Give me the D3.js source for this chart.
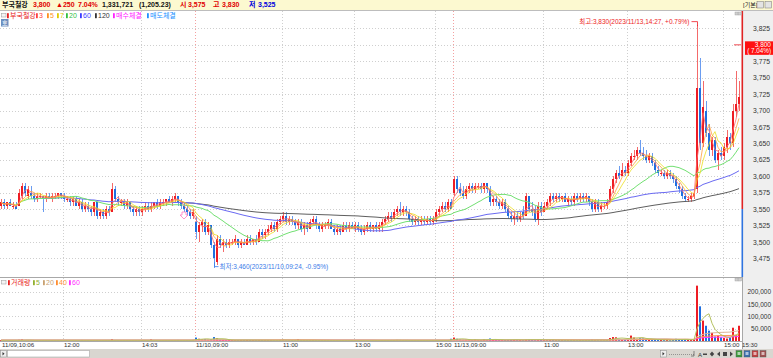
<!DOCTYPE html>
<html><head><meta charset="utf-8">
<script src="https://cdn.jsdelivr.net/npm/d3@7/dist/d3.min.js"></script>
<style>
html,body{margin:0;padding:0;background:#fff;}
svg{display:block;font-family:"Liberation Sans","Noto Sans CJK KR",sans-serif;}
</style></head><body>
<svg id="chart" width="773" height="358"></svg>
<script>
// ---------- DATA ----------
const opens = [
3555,3560,3555,3560,3555,3555,3555,3570,3585,3570,3575,3570,3565,3570,3570,3565,3570,3565,3570,3570,
3575,3570,3565,3565,3560,3565,3555,3560,3550,3555,3550,3545,3560,3540,3545,3540,3550,3545,3580,3565,
3560,3560,3555,3560,3550,3545,3550,3545,3550,3555,3550,3555,3560,3555,3560,3560,3565,3560,3565,3570,
3560,3555,3550,3545,3540,3530,3515,3525,3530,3515,3525,3495,3470,3505,3495,3500,3495,3500,3500,3505,
3495,3500,3495,3505,3500,3505,3500,3515,3510,3515,3520,3525,3520,3530,3535,3540,3530,3535,3530,3525,
3530,3520,3525,3520,3530,3535,3525,3520,3525,3525,3530,3520,3515,3520,3515,3525,3520,3525,3520,3525,
3520,3515,3520,3525,3520,3525,3520,3525,3530,3535,3540,3535,3545,3550,3545,3550,3545,3535,3530,3535,
3530,3535,3530,3535,3530,3535,3545,3550,3555,3550,3560,3575,3595,3580,3575,3570,3580,3585,3580,3585,
3585,3580,3590,3580,3560,3565,3560,3555,3560,3550,3540,3535,3540,3535,3545,3540,3570,3550,3550,3535,
3555,3545,3555,3560,3570,3565,3570,3565,3570,3560,3565,3560,3570,3565,3570,3565,3570,3560,3550,3560,
3550,3555,3555,3560,3580,3595,3605,3600,3610,3605,3620,3630,3630,3640,3635,3630,3625,3630,3620,3610,
3605,3605,3600,3605,3600,3595,3585,3580,3570,3565,3565,3570,3580,3735,3650,3700,3665,3640,3655,3625,
3635,3630,3645,3660,3650,3700,3710
];
const highs = [
3565,3565,3560,3565,3560,3560,3580,3590,3590,3585,3585,3575,3575,3575,3570,3575,3575,3575,3575,3575,
3575,3575,3570,3570,3570,3570,3565,3565,3560,3560,3555,3560,3560,3550,3550,3555,3555,3590,3585,3570,
3565,3565,3565,3560,3555,3555,3555,3555,3560,3560,3560,3560,3565,3565,3565,3565,3570,3570,3575,3570,
3565,3560,3555,3550,3550,3540,3530,3535,3535,3530,3525,3500,3510,3510,3505,3505,3505,3505,3510,3505,
3505,3505,3510,3510,3505,3510,3520,3520,3520,3525,3530,3530,3535,3540,3545,3545,3540,3540,3535,3535,
3535,3530,3530,3535,3540,3540,3530,3530,3530,3535,3535,3525,3525,3525,3530,3530,3530,3530,3530,3530,
3525,3525,3530,3530,3525,3530,3530,3535,3540,3545,3545,3550,3555,3560,3555,3555,3550,3540,3540,3540,
3540,3540,3540,3540,3540,3550,3555,3560,3560,3565,3565,3600,3600,3590,3585,3585,3590,3590,3590,3590,
3590,3590,3590,3585,3570,3570,3565,3565,3565,3555,3545,3545,3545,3545,3555,3575,3570,3560,3555,3560,
3560,3560,3565,3575,3575,3575,3575,3570,3575,3570,3570,3575,3575,3575,3575,3575,3570,3565,3565,3565,
3560,3560,3565,3585,3600,3610,3615,3620,3615,3625,3635,3640,3645,3655,3645,3640,3635,3635,3625,3615,
3610,3610,3610,3610,3605,3600,3590,3585,3575,3570,3575,3580,3830,3780,3745,3715,3680,3660,3660,3640,
3645,3650,3670,3665,3710,3760,3745
];
const lows = [
3550,3550,3550,3555,3550,3550,3555,3565,3570,3565,3565,3560,3560,3565,3545,3560,3565,3560,3565,3565,
3565,3560,3560,3555,3555,3555,3550,3545,3545,3545,3540,3540,3535,3535,3535,3535,3540,3545,3560,3555,
3555,3550,3550,3545,3540,3540,3540,3540,3545,3545,3545,3550,3550,3550,3555,3555,3560,3555,3560,3555,
3550,3545,3540,3535,3535,3505,3500,3515,3510,3510,3490,3460,3465,3490,3485,3490,3490,3495,3495,3490,
3490,3495,3495,3495,3495,3495,3500,3505,3505,3510,3515,3515,3515,3525,3530,3525,3525,3525,3520,3520,
3515,3510,3515,3520,3525,3520,3515,3515,3520,3520,3520,3510,3510,3510,3515,3515,3515,3520,3515,3515,
3510,3510,3515,3515,3515,3515,3515,3515,3525,3530,3530,3535,3540,3540,3540,3540,3530,3525,3525,3525,
3525,3525,3525,3525,3525,3530,3540,3545,3545,3545,3550,3570,3575,3570,3565,3565,3575,3575,3575,3580,
3575,3575,3575,3555,3555,3555,3550,3550,3545,3535,3530,3525,3530,3530,3535,3540,3545,3540,3530,3525,
3540,3545,3550,3555,3560,3560,3560,3560,3560,3555,3555,3555,3560,3560,3560,3560,3555,3545,3545,3545,
3545,3550,3550,3560,3575,3590,3595,3600,3600,3600,3615,3625,3625,3630,3625,3620,3620,3615,3605,3600,
3600,3595,3595,3595,3590,3580,3575,3565,3560,3560,3560,3565,3575,3640,3645,3660,3630,3630,3620,3610,
3625,3625,3635,3640,3645,3690,3700
];
const closes = [
3560,3555,3560,3555,3555,3550,3575,3585,3575,3580,3570,3565,3570,3570,3565,3570,3565,3570,3570,3575,
3570,3565,3565,3560,3565,3555,3560,3550,3555,3550,3545,3560,3540,3545,3540,3550,3545,3580,3565,3560,
3560,3555,3560,3550,3545,3550,3545,3550,3555,3550,3555,3560,3555,3560,3560,3565,3560,3565,3570,3560,
3555,3550,3545,3540,3545,3515,3525,3530,3515,3525,3495,3475,3505,3495,3500,3495,3500,3500,3505,3495,
3500,3495,3505,3500,3505,3500,3515,3510,3515,3520,3525,3520,3530,3535,3540,3530,3535,3530,3525,3530,
3520,3525,3520,3530,3535,3525,3520,3525,3525,3530,3520,3515,3520,3515,3525,3520,3525,3520,3525,3520,
3515,3520,3525,3520,3525,3520,3525,3530,3535,3540,3535,3545,3550,3545,3550,3545,3535,3530,3535,3530,
3535,3530,3535,3530,3535,3545,3550,3555,3550,3560,3550,3595,3580,3575,3570,3580,3585,3580,3585,3585,
3580,3590,3580,3560,3565,3560,3555,3560,3550,3540,3535,3540,3535,3540,3540,3570,3550,3545,3535,3555,
3545,3555,3560,3570,3565,3570,3565,3570,3560,3565,3560,3570,3565,3570,3565,3570,3560,3550,3560,3550,
3555,3555,3560,3580,3595,3605,3600,3610,3605,3620,3630,3630,3640,3635,3630,3625,3630,3620,3610,3605,
3605,3600,3605,3600,3595,3585,3580,3570,3565,3565,3570,3575,3735,3650,3705,3665,3640,3655,3625,3635,
3630,3645,3660,3650,3700,3710,3720
];
const volumes = [
3200,1500,900,1200,800,2100,4800,6500,3000,2500,1800,1500,900,700,2600,1200,1000,800,1100,900,1400,
2000,700,900,1300,1600,3500,4200,1500,2800,3100,2500,4000,1800,2200,1500,1200,7500,2800,1500,900,
1100,1300,1800,2200,1400,1700,1500,2100,1300,6500,2400,1800,3300,1500,1200,2000,2800,1600,4200,2500,3000,3800,2200,4500,
14000,9000,6500,8000,5000,7500,16000,11000,6000,4500,3000,3500,2500,2800,3200,2000,2600,4000,2200,1800,2400,3600,2500,3000,2800,3300,
2500,3600,4200,5000,3000,2200,2000,2600,7000,2400,2000,1800,2500,3800,2900,2000,1600,1400,2200,1900,
2600,1800,1600,2400,1500,1800,1300,2000,1700,2400,1500,1800,1400,2100,1600,
2200,3000,3500,4000,2400,3800,4200,3600,2800,2500,3000,2200,2400,1800,2100,1700,2000,1500,1900,3200,2800,3500,2500,3000,9000,
14000,9000,6000,4500,5000,5500,4000,6000,3500,3000,8000,4500,10000,5000,4000,3600,3000,5200,6000,4800,
5000,3800,4200,3500,6000,7500,5000,3600,4000,6500,3800,3400,4500,4000,3000,3500,2800,3200,2600,3000,
3300,2800,3600,2500,3000,3800,5000,4200,3600,3000,2600,4000,12000,16000,15000,9000,8000,7000,10000,22000,
14000,9000,12000,11000,7000,6500,5000,6000,4500,4000,3500,3800,3000,5000,9000,7000,6000,5000,4500,3800,8000,
225000,141000,83000,62000,42000,33000,18000,22000,15000,12000,10000,14000,54000,25000,62000
];
const xTickLabels = ["11/09,10:06","12:00","14:03","11/10,09:00","11:00","13:00","15:00","11/13,09:00","11:00","13:00","15:00","15:30"];
const xTickIdx = [0,21,47,65,94,118,145,151,181,209,241,246];
const dayBreakIdx = [65,151];
const yTicks = [3475,3500,3525,3550,3575,3600,3625,3650,3675,3700,3725,3750,3775,3800,3825];
const volTicks = [50000,100000,150000,200000];
const prevClose = 3550, lastPrice = 3800, lastPct = "7.04%";
const highInfo = {idx:232, price:3830, text:"최고:3,830(2023/11/13,14:27, +0.79%)"};
const lowInfo = {idx:71, price:3460, text:"최저:3,460(2023/11/10,09:24, -0.95%)"};
const signalIdx = 61, signalPrice = 3545;

// ---------- LAYOUT ----------
const N = closes.length;
const svg = d3.select("#chart");
const FONT = "Liberation Sans, Noto Sans CJK KR, sans-serif";
const plotR = 741;
const x = d3.scaleBand().domain(d3.range(N)).range([0, plotR]).padding(0);
const y = d3.scaleLinear().domain([3448, 3850]).range([276, 12]);
const yv = d3.scaleLinear().domain([0, 250000]).range([341, 279.5]);
const RED = "#ee1c24", BLUE = "#1f6fe0";
const maColors = {3:"#ff6a6a",5:"#ffa040",7:"#ece020",20:"#72e072",60:"#6a6af2",120:"#5e5e5e"};
const maStart = {3:0,5:0,7:0,20:0,60:11,120:58};
const vmaColors = {5:"#b4c060",20:"#dcb49a",40:"#ff9650",60:"#ff3cff"};

function movAvg(arr, n){ return arr.map((_,i)=>d3.mean(arr.slice(Math.max(0,i-n+1), i+1))); }

svg.append("rect").attr("width",773).attr("height",358).attr("fill","#fff");

// right axis column
svg.append("rect").attr("x",743).attr("y",10).attr("width",30).attr("height",340).attr("fill","#efefef");

// clip paths
const defs = svg.append("defs");
defs.append("clipPath").attr("id","cMain").append("rect").attr("x",0).attr("y",11).attr("width",plotR+1).attr("height",266);
defs.append("clipPath").attr("id","cVol").append("rect").attr("x",0).attr("y",278).attr("width",plotR+1).attr("height",63.5);

// ---------- GRID ----------
const grid = svg.append("g").attr("stroke-dasharray","1,2").attr("stroke-width",1);
grid.append("g").selectAll("line").data(yTicks).join("line")
  .attr("x1",0).attr("x2",plotR).attr("y1",d=>Math.round(y(d))+0.5).attr("y2",d=>Math.round(y(d))+0.5)
  .attr("stroke","#cfcfcf");
grid.append("g").selectAll("line").data(volTicks).join("line")
  .attr("x1",0).attr("x2",plotR).attr("y1",d=>Math.round(yv(d))+0.5).attr("y2",d=>Math.round(yv(d))+0.5)
  .attr("stroke","#cfcfcf");
grid.append("g").selectAll("line").data(xTickIdx.slice(1, -1)).join("line")
  .attr("x1",d=>x(d)+0.5).attr("x2",d=>x(d)+0.5).attr("y1",11).attr("y2",341)
  .attr("stroke",d=>dayBreakIdx.includes(d)?"#f4a0a0":"#cfcfcf");

// panel separators
svg.append("line").attr("x1",0).attr("x2",773).attr("y1",10.5).attr("y2",10.5).attr("stroke","#bdbdbd");
svg.append("line").attr("x1",0).attr("x2",743).attr("y1",277.5).attr("y2",277.5).attr("stroke","#a8a8a8");
svg.append("line").attr("x1",0).attr("x2",743).attr("y1",341.5).attr("y2",341.5).attr("stroke","#a8a8a8");
svg.append("line").attr("x1",742.5).attr("x2",742.5).attr("y1",277).attr("y2",349).attr("stroke","#a8a8a8");

// ---------- CANDLES ----------
const main = svg.append("g").attr("clip-path","url(#cMain)");
const idx = d3.range(N);
const up = i => closes[i] >= opens[i];
main.append("g").selectAll("rect").data(idx).join("rect")
  .attr("x",i=>x(i)+1).attr("width",1)
  .attr("y",i=>Math.round(y(highs[i])))
  .attr("height",i=>Math.max(1,Math.round(y(lows[i]))-Math.round(y(highs[i]))))
  .attr("fill",i=>up(i)?"#f46a6a":"#6a9cf0").attr("shape-rendering","crispEdges");
main.append("g").selectAll("rect").data(idx).join("rect")
  .attr("x",i=>x(i)).attr("width",2)
  .attr("y",i=>Math.round(y(Math.max(opens[i],closes[i]))))
  .attr("height",i=>Math.max(1,Math.round(y(Math.min(opens[i],closes[i])))-Math.round(y(Math.max(opens[i],closes[i])))))
  .attr("fill",i=>up(i)?RED:BLUE).attr("shape-rendering","crispEdges");

// price MAs
[120,60,20,7,5,3].forEach(n=>{
  const m = movAvg(closes,n);
  const line = d3.line().x(i=>x(i)+1).y(i=>y(m[i]));
  main.append("path").attr("d",line(idx.filter(i=>i>=maStart[n])))
    .attr("fill","none").attr("stroke",maColors[n]).attr("stroke-width",1)
    .attr("opacity", n<=7?0.8:1);
});

// signal arrow
{
  const sx = x(signalIdx)+1, sy = Math.round(y(signalPrice));
  main.append("path").attr("d",`M${sx-2},${sy} h4 v3 h2 l-4,4 l-4,-4 h2 z`)
    .attr("fill","#fff").attr("stroke","#ff7ac0").attr("stroke-width",0.8);
}

// high / low labels
{
  const hx = x(highInfo.idx)+1.5, hy = y(highInfo.price);
  svg.append("path").attr("d",`M${hx-6},${hy-3.5} H${hx} V${hy+1}`).attr("fill","none").attr("stroke",RED).attr("stroke-width",0.8);
  svg.append("text").attr("x",hx-8).attr("y",hy-1.3).attr("text-anchor","end")
    .attr("font-size",6.5).attr("font-family",FONT).attr("fill",RED).text(highInfo.text);
  const lx = x(lowInfo.idx)+1.5, ly = y(lowInfo.price);
  svg.append("path").attr("d",`M${lx},${ly-6} V${ly-1.5} H${lx+4}`).attr("fill","none").attr("stroke","#3a7ae8").attr("stroke-width",0.8);
  svg.append("text").attr("x",lx+5).attr("y",ly+0.8)
    .attr("font-size",6.5).attr("font-family",FONT).attr("fill","#3a7ae8").text(lowInfo.text);
}

// right border of price panel (red above previous close, blue below)
svg.append("rect").attr("x",741.5).attr("y",11).attr("width",1.6).attr("height",y(prevClose)-11).attr("fill","#e02424");
svg.append("rect").attr("x",741.5).attr("y",y(prevClose)).attr("width",1.6).attr("height",277-y(prevClose)).attr("fill","#2f74e0");

// ---------- VOLUME ----------
const vol = svg.append("g").attr("clip-path","url(#cVol)");
vol.append("g").selectAll("rect").data(idx).join("rect")
  .attr("x",i=>x(i)).attr("width",2)
  .attr("y",i=>Math.min(yv(volumes[i]), 340.2))
  .attr("height",i=>Math.max(0.8, yv(0)-yv(volumes[i])))
  .attr("fill",i=>up(i)?RED:BLUE);
[60,40,20,5].forEach(n=>{
  const m = movAvg(volumes,n);
  const line = d3.line().x(i=>x(i)+1).y(i=>Math.min(yv(m[i]),340.2));
  vol.append("path").attr("d",line(idx)).attr("fill","none")
    .attr("stroke",vmaColors[n]).attr("stroke-width",1);
});

// ---------- AXES ----------
const yAxis = svg.append("g").attr("transform","translate(770,0)")
  .call(d3.axisLeft(y).tickValues(yTicks.filter(t=>t!==lastPrice)).tickFormat(d3.format(",")).tickSize(0).tickPadding(0));
yAxis.select(".domain").remove();
yAxis.attr("font-size",6.8).attr("font-family",FONT).selectAll("text").attr("fill","#333");

const vAxis = svg.append("g").attr("transform","translate(771,0)")
  .call(d3.axisLeft(yv).tickValues(volTicks).tickFormat(d3.format(",")).tickSize(0).tickPadding(0));
vAxis.select(".domain").remove();
vAxis.attr("font-size",6.5).attr("font-family",FONT).selectAll("text").attr("fill","#333");

const xAxis = svg.append("g").attr("transform","translate(0,343)")
  .call(d3.axisBottom(x).tickValues(xTickIdx).tickFormat((d,i)=>xTickLabels[i]).tickSize(0).tickPadding(0));
xAxis.select(".domain").remove();
xAxis.attr("font-size",6.2).attr("font-family",FONT);
xAxis.selectAll("text").attr("text-anchor","start")
  .attr("x",(d,i)=>i===0?0.5:(i===xTickIdx.length-1?2.5:-0.5)).attr("fill","#333");

// last price box
{
  const py = y(lastPrice);
  svg.append("line").attr("x1",734).attr("x2",741).attr("y1",py).attr("y2",py).attr("stroke",RED).attr("stroke-width",0.8);
  svg.append("rect").attr("x",745).attr("y",py-3.5).attr("width",28).attr("height",13.5).attr("fill","#ff1010");
  svg.append("text").attr("x",771).attr("y",py+2.2).attr("text-anchor","end").attr("font-size",6.5)
    .attr("font-family",FONT).attr("fill","#fff").text(d3.format(",")(lastPrice));
  svg.append("text").attr("x",771).attr("y",py+8.5).attr("text-anchor","end").attr("font-size",6.3)
    .attr("font-family",FONT).attr("fill","#fff").text("( "+lastPct+")");
}

// small panel buttons
[[735,12],[735,278]].forEach(([bx,by])=>{
  svg.append("rect").attr("x",bx).attr("y",by).attr("width",3).attr("height",3).attr("fill","#d0d0d0").attr("stroke","#999").attr("stroke-width",0.4);
  svg.append("rect").attr("x",bx+3.5).attr("y",by).attr("width",3).attr("height",3).attr("fill","#d0d0d0").attr("stroke","#999").attr("stroke-width",0.4);
});

// ---------- HEADER ----------
svg.append("rect").attr("x",0).attr("y",0).attr("width",773).attr("height",10).attr("fill","#fcf9d0");
const header = [
  {t:"부국철강",x:2,c:"#111"},{t:"3,800",x:33,c:"#e00000"},{t:"▲250",x:56,c:"#e00000"},
  {t:"7.04%",x:78,c:"#e00000"},{t:"1,331,721",x:102,c:"#111"},{t:"(1,205.23)",x:139,c:"#111"},
  {t:"시",x:180,c:"#e00000"},{t:"3,575",x:188,c:"#e00000"},{t:"고",x:213,c:"#e00000"},
  {t:"3,830",x:222,c:"#e00000"},{t:"저",x:249,c:"#0000dd"},{t:"3,525",x:258,c:"#0000dd"}
];
svg.append("g").selectAll("text").data(header).join("text")
  .attr("x",d=>d.x).attr("y",7.3).attr("font-size",7).attr("font-weight","bold")
  .attr("font-family",FONT).attr("fill",d=>d.c).text(d=>d.t);
svg.append("text").attr("x",743).attr("y",7).attr("font-size",6).attr("font-family",FONT).attr("fill","#222").text("[기본]");
[757,765].forEach(bx=>svg.append("rect").attr("x",bx).attr("y",1.5).attr("width",6.5).attr("height",6.5)
  .attr("fill","#e4e4e4").attr("stroke","#777").attr("stroke-width",0.5));

// ---------- LEGENDS ----------
function legend(items, ly){
  svg.append("rect").attr("x",1.5).attr("y",ly-2.5).attr("width",4.5).attr("height",3.5).attr("fill","#f4f4f4").attr("stroke","#999").attr("stroke-width",0.5);
  const g = svg.append("g");
  items.forEach(d=>{
    g.append("rect").attr("x",d.x).attr("y",ly-2.8).attr("width",1.8).attr("height",5).attr("fill",d.c);
    g.append("text").attr("x",d.x+3).attr("y",ly+2.3).attr("font-size",7).attr("font-family",FONT).attr("fill",d.c).text(d.t);
  });
}
legend([
  {t:"부국철강",x:7,c:"#e82020"},{t:"3",x:36,c:"#ff4040"},{t:"5",x:47,c:"#ff9020"},
  {t:"7",x:57,c:"#e0c800"},{t:"20",x:66,c:"#30c040"},{t:"60",x:80,c:"#3a3aff"},
  {t:"120",x:95,c:"#333"},{t:"매수체결",x:113,c:"#ff20ff"},{t:"매도체결",x:147,c:"#2090ff"}
], 16);
legend([
  {t:"거래량",x:8,c:"#e82020"},{t:"5",x:33,c:"#90b030"},{t:"20",x:43,c:"#c8a070"},
  {t:"40",x:56,c:"#ff8c30"},{t:"60",x:69,c:"#ff30ff"}
], 283);

// "호" button
svg.append("rect").attr("x",1).attr("y",19).attr("width",7.5).attr("height",7.5).attr("fill","#6d8fbf");
svg.append("text").attr("x",4.75).attr("y",25).attr("text-anchor","middle").attr("font-size",6).attr("font-family",FONT).attr("fill","#fff").text("호");

// ---------- SCROLLBAR / TOOLBAR ----------
svg.append("rect").attr("x",0).attr("y",349).attr("width",773).attr("height",9).attr("fill","#d9d6d0");
svg.append("rect").attr("x",0.5).attr("y",350.5).attr("width",6).attr("height",6.5).attr("fill","#eee").attr("stroke","#888").attr("stroke-width",0.5);
svg.append("path").attr("d","M2.5,352 l2,1.8 l-2,1.8 z").attr("fill","#333");
svg.append("rect").attr("x",7.5).attr("y",350.5).attr("width",82).attr("height",6.5).attr("fill","#fff").attr("stroke","#999").attr("stroke-width",0.5);
svg.append("rect").attr("x",660.5).attr("y",350.5).attr("width",6).attr("height",6.5).attr("fill","#eee").attr("stroke","#888").attr("stroke-width",0.5);
svg.append("path").attr("d","M662.5,352 l2,1.8 l-2,1.8 z").attr("fill","#333");
svg.append("line").attr("x1",669).attr("x2",694).attr("y1",354.5).attr("y2",354.5).attr("stroke","#666").attr("stroke-width",0.6).attr("stroke-dasharray","1,1");
svg.append("path").attr("d","M694,351 v5 h-3").attr("fill","none").attr("stroke","#444").attr("stroke-width",0.6);
svg.append("text").attr("x",698).attr("y",356.5).attr("font-size",6).attr("font-family",FONT).attr("fill","#333").text("A");
svg.append("rect").attr("x",703).attr("y",353.5).attr("width",4).attr("height",1.5).attr("fill","#444");
svg.append("path").attr("d","M712,351.5 l2.2,2.5 l-2.2,2.5 l-2.2,-2.5 z").attr("fill","#444");
svg.append("path").attr("d","M720,351.5 v5 l-3,-2.5 z").attr("fill","#444");
svg.append("rect").attr("x",723).attr("y",352).attr("width",4).attr("height",4).attr("fill","#444");
svg.append("path").attr("d","M730,351.5 v5 l3,-2.5 z").attr("fill","#444");
[[736,"#3a9a3a"],[744,"#3b6fb0"],[752,"#c04040"],[760,"#a05050"]].forEach(([bx,c])=>{
  svg.append("rect").attr("x",bx).attr("y",350.5).attr("width",6).attr("height",6.5).attr("fill",c).attr("stroke","#555").attr("stroke-width",0.4);
  svg.append("rect").attr("x",bx+1.5).attr("y",352).attr("width",3).attr("height",3).attr("fill","#fff").attr("opacity",0.6);
});
</script></body></html>
